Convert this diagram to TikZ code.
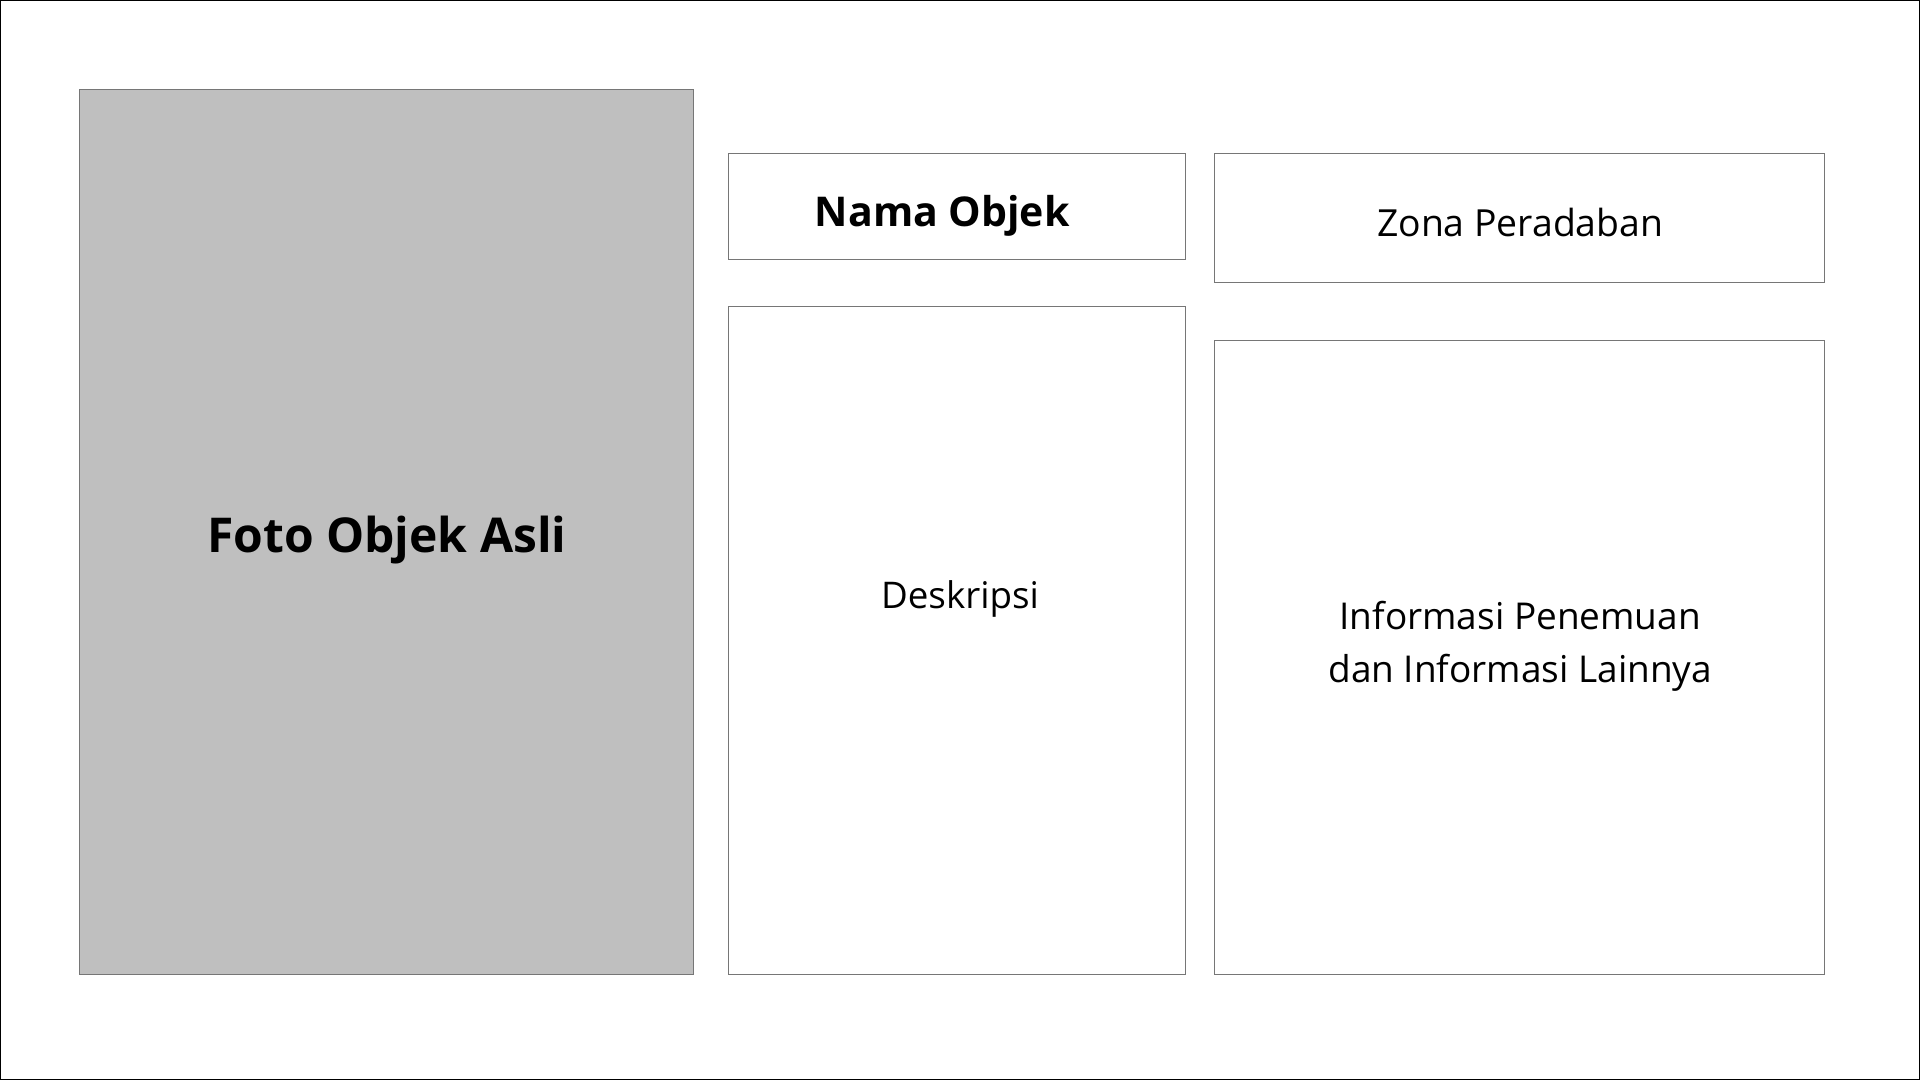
\documentclass[tikz,border=0pt]{standalone}
\usepackage{fontspec}
\setmainfont{Open Sans}
\definecolor{boxline}{HTML}{767676}
\definecolor{photofill}{HTML}{BFBFBF}
\begin{document}
\begin{tikzpicture}[x=1pt,y=-1pt,
  panel/.style={draw=boxline,line width=0.9pt,fill=white},
  lbl/.style={text=black,align=center,inner sep=0pt}]
\useasboundingbox (0,0) rectangle (1568,882);
\draw[black,line width=1.2pt] (0.6,0.6) rectangle (1567.4,881.4);
\draw[panel,fill=photofill] (65,73) rectangle (566,796);
\draw[panel] (595,125) rectangle (968,212);
\draw[panel] (992,125) rectangle (1490,231);
\draw[panel] (595,250) rectangle (968,796);
\draw[panel] (992,278) rectangle (1490,796);
\node[lbl,font=\fontsize{39.2}{47}\selectfont\bfseries] (foto) at (316,441) {Foto Objek Asli};
\node[lbl,font=\fontsize{33.5}{40}\selectfont\bfseries] (nama) at (769.5,176) {Nama Objek};
\node[lbl,font=\fontsize{30.5}{36}\selectfont] (zona) at (1241.5,181.5) {Zona Peradaban};
\node[lbl,font=\fontsize{30}{36}\selectfont] (desk) at (784,489) {Deskripsi};
\node[lbl,font=\fontsize{30.2}{43.5}\selectfont] (info) at (1241.5,528) {Informasi Penemuan\\dan Informasi Lainnya};
\end{tikzpicture}
\end{document}
